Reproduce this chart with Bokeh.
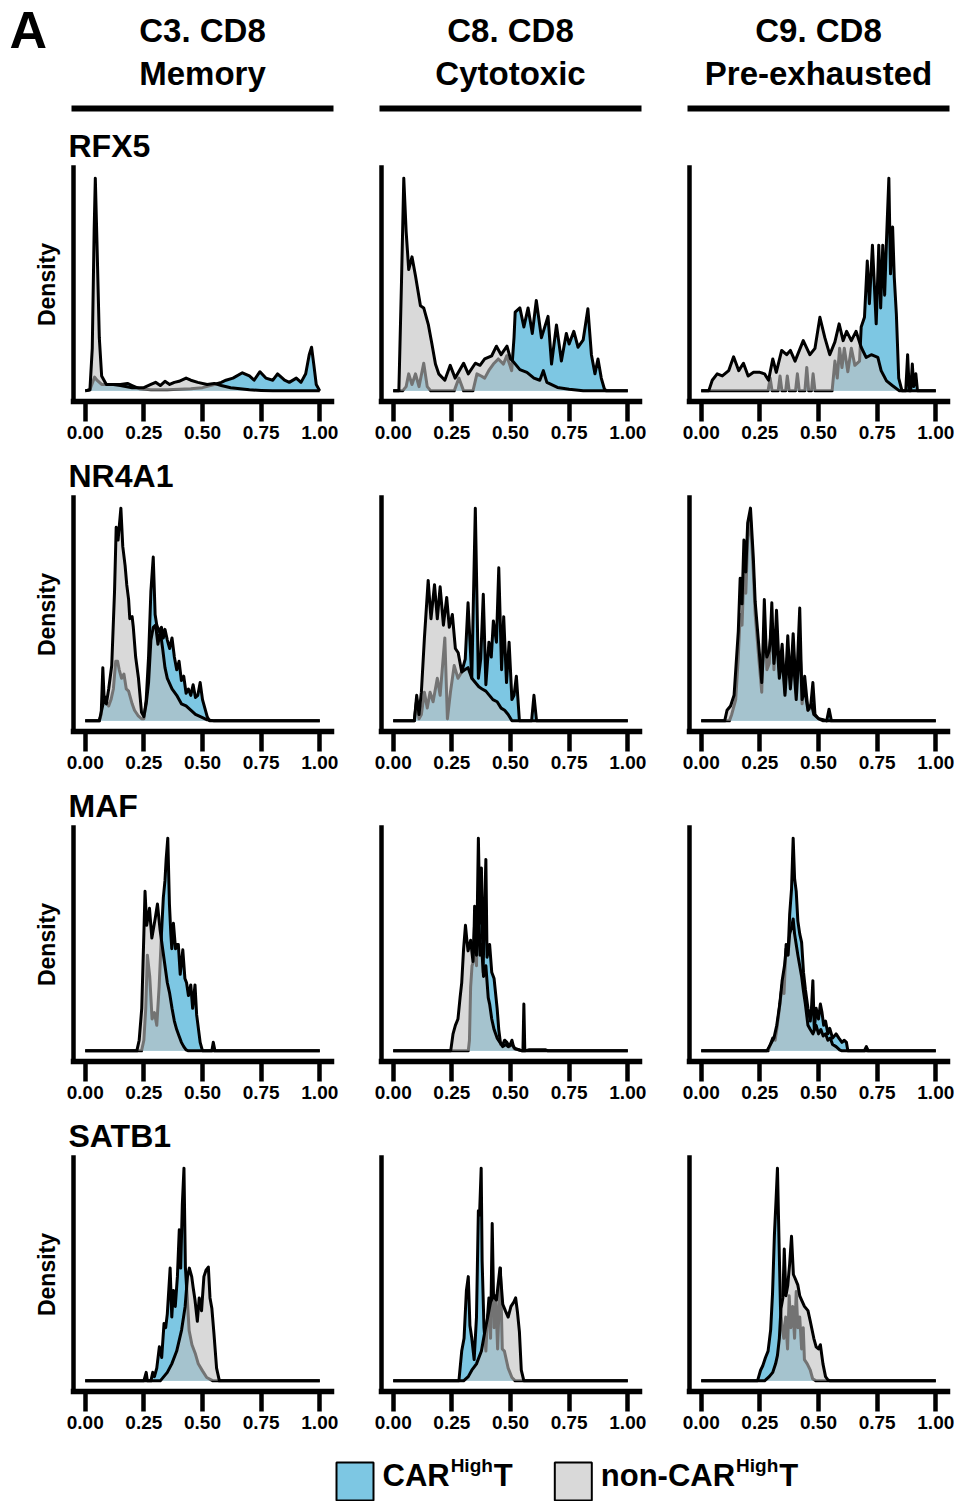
from bokeh.plotting import figure
from bokeh.layouts import column, row
from bokeh.models import Range1d, FixedTicker, NumeralTickFormatter
from bokeh.embed import file_html
from bokeh.resources import INLINE
from bokeh.core.properties import value

# ---------------- data (x = scaled expression, y = relative density) ----------------
header_line1 = ["C3. CD8", "C8. CD8", "C9. CD8"]
header_line2 = ["Memory", "Cytotoxic", "Pre-exhausted"]
genes = ["RFX5", "NR4A1", "MAF", "SATB1"]
x_ticks = [0.0, 0.25, 0.5, 0.75, 1.0]
x_tick_labels = ["0.00", "0.25", "0.50", "0.75", "1.00"]
legend_labels = ["CAR", "non-CAR"]

RFX5_C3_CAR = [(0,0),(0.02,0.5),(0.04,6.5),(0.05,5),(0.07,3),(0.1,3),(0.15,3),(0.18,3.5),(0.2,2.5),(0.23,1),(0.28,0.5),(0.35,0.5),(0.45,1),(0.5,1.5),(0.55,3),(0.58,4),(0.6,5),(0.63,6),(0.67,8.5),(0.7,7),(0.72,5),(0.745,9),(0.77,6),(0.8,5),(0.82,8),(0.85,5),(0.87,4),(0.9,6),(0.92,4),(0.94,8),(0.955,17),(0.965,20.5),(0.975,12),(0.985,3),(1,0)]
RFX5_C3_NON = [(0,0),(0.02,0.5),(0.03,20),(0.038,75),(0.043,100),(0.05,70),(0.06,25),(0.07,7),(0.09,3),(0.12,3),(0.15,2.5),(0.2,1.5),(0.25,1.5),(0.28,3),(0.3,4),(0.32,2.5),(0.34,4.5),(0.36,3),(0.38,4),(0.4,4.5),(0.43,6),(0.45,5),(0.48,4),(0.52,3),(0.55,3.5),(0.58,2.5),(0.62,1.5),(0.66,1),(0.7,0.5),(0.75,0.2),(0.8,0),(1,0)]
RFX5_C8_CAR = [(0,0),(0.04,0),(0.055,2),(0.066,8),(0.08,3),(0.095,8),(0.11,2),(0.13,13),(0.145,2),(0.16,0),(0.26,0),(0.28,6),(0.3,0),(0.34,0),(0.357,8),(0.375,7),(0.39,6),(0.41,10),(0.427,12.6),(0.448,15),(0.47,12.6),(0.484,16.5),(0.505,9.5),(0.515,25),(0.52,37),(0.54,39),(0.557,30),(0.575,39),(0.593,27),(0.61,42.5),(0.632,25),(0.66,35),(0.675,12.6),(0.696,31),(0.717,14),(0.738,27),(0.75,22),(0.77,28),(0.788,20.5),(0.81,24),(0.83,38.6),(0.845,17),(0.86,8),(0.873,15),(0.887,6),(0.9,1),(0.908,0),(1,0)]
RFX5_C8_NON = [(0,0),(0.024,0),(0.035,50),(0.045,100),(0.055,75),(0.066,57),(0.08,63),(0.095,54),(0.116,40),(0.13,39),(0.15,31),(0.165,22),(0.18,12.6),(0.194,8),(0.22,5),(0.243,12),(0.264,6),(0.3,13),(0.32,8),(0.35,13),(0.37,12),(0.39,15),(0.42,16.5),(0.44,21),(0.46,17),(0.485,21),(0.5,15),(0.51,14),(0.54,10),(0.57,8.7),(0.6,6),(0.625,5),(0.64,9.5),(0.655,4),(0.7,1.6),(0.75,0.8),(0.81,0),(1,0)]
RFX5_C9_CAR = [(0,0),(0.285,0),(0.294,6),(0.302,0),(0.328,0),(0.336,7),(0.344,0),(0.36,0),(0.367,7),(0.375,0),(0.402,0),(0.41,8),(0.418,0),(0.442,0),(0.45,11),(0.458,0),(0.47,0),(0.477,8),(0.485,0),(0.558,0),(0.57,14),(0.58,6),(0.59,20),(0.6,11),(0.61,20),(0.625,9),(0.64,20),(0.655,12),(0.675,14),(0.682,30),(0.696,34.6),(0.708,61),(0.717,41),(0.73,68.5),(0.746,31.5),(0.757,68.5),(0.765,39),(0.774,68.5),(0.782,45),(0.79,71),(0.8,100),(0.807,55),(0.816,77),(0.823,53.5),(0.832,36),(0.842,6),(0.856,0),(0.872,0),(0.88,17),(0.887,0),(0.893,0),(0.9,12.6),(0.906,2),(0.915,8),(0.922,0),(1,0)]
RFX5_C9_NON = [(0,0),(0.032,0),(0.047,5),(0.068,8),(0.09,7),(0.117,9.5),(0.138,16),(0.16,9.5),(0.18,13),(0.2,7),(0.223,8.7),(0.25,8.7),(0.27,8),(0.287,5),(0.305,15),(0.32,8.7),(0.343,19),(0.364,17),(0.38,19),(0.4,14),(0.435,23.6),(0.463,17),(0.485,20),(0.506,34.6),(0.527,25),(0.548,17),(0.57,23),(0.588,31.5),(0.605,23.6),(0.62,28),(0.64,23.6),(0.66,28),(0.682,20.5),(0.703,15.7),(0.725,17),(0.753,15.7),(0.767,9.5),(0.79,4.7),(0.816,2.4),(0.845,0),(1,0)]

NR4A1_C3_CAR = [(0,0),(0.06,0),(0.068,3),(0.075,25),(0.08,12),(0.09,9),(0.1,7),(0.11,10),(0.12,15),(0.13,28),(0.138,28),(0.145,24),(0.155,20),(0.165,22),(0.175,15),(0.185,14),(0.2,8),(0.21,5),(0.225,2.5),(0.24,1),(0.25,1),(0.26,10),(0.27,30),(0.28,61),(0.29,77),(0.298,50),(0.305,45),(0.315,42),(0.325,44),(0.333,39),(0.34,43),(0.35,38),(0.36,34),(0.37,39),(0.38,30),(0.39,24),(0.4,28),(0.41,19),(0.42,21),(0.43,13),(0.44,15),(0.45,12),(0.46,17),(0.47,11),(0.48,12),(0.49,18),(0.5,10),(0.51,6),(0.52,2),(0.53,0),(1,0)]
NR4A1_C3_NON = [(0,0),(0.06,0),(0.07,5),(0.08,10),(0.09,8),(0.1,15),(0.113,26),(0.125,61),(0.132,91),(0.14,85),(0.152,100),(0.16,82),(0.17,73),(0.177,64),(0.185,57),(0.19,48),(0.2,49),(0.205,44),(0.215,30),(0.227,20),(0.24,4),(0.25,2),(0.26,8),(0.27,18),(0.28,38),(0.29,44),(0.3,45),(0.31,36),(0.32,42),(0.33,34),(0.34,25),(0.35,20),(0.37,15),(0.39,12),(0.41,8),(0.43,7),(0.45,5),(0.47,3),(0.5,1.5),(0.52,0.5),(0.55,0),(1,0)]
NR4A1_C8_CAR = [(0,0),(0.09,0),(0.1,10),(0.11,1),(0.12,3),(0.133,13.5),(0.145,6),(0.157,13.5),(0.17,9),(0.188,20),(0.2,12),(0.22,39),(0.231,1),(0.244,13.5),(0.26,26),(0.276,20),(0.292,23),(0.307,29),(0.319,55.5),(0.335,20),(0.35,100),(0.363,20),(0.373,29),(0.384,59.5),(0.395,17),(0.408,37),(0.418,30),(0.427,47),(0.44,37),(0.45,72),(0.462,24),(0.471,49),(0.483,18),(0.494,37),(0.506,10),(0.515,12),(0.525,21),(0.538,0),(0.59,0),(0.6,12),(0.611,0),(1,0)]
NR4A1_C8_NON = [(0,0),(0.09,0),(0.1,12),(0.11,3),(0.12,13.5),(0.133,39),(0.149,66),(0.161,48),(0.176,64),(0.188,48),(0.2,63),(0.214,45),(0.228,58),(0.239,44),(0.252,50),(0.265,34),(0.277,32),(0.292,23),(0.305,24),(0.319,25),(0.335,20),(0.35,18),(0.365,16),(0.379,15),(0.395,14),(0.41,12),(0.425,10),(0.443,9),(0.46,6),(0.475,5),(0.49,3),(0.506,0),(1,0)]
NR4A1_C9_CAR = [(0,0),(0.12,0),(0.13,3),(0.147,10),(0.158,30),(0.166,50),(0.174,45),(0.182,70),(0.19,60),(0.198,85),(0.21,95),(0.222,70),(0.23,50),(0.245,30),(0.258,13.5),(0.269,57),(0.28,24),(0.29,27),(0.301,55.5),(0.31,24),(0.321,52),(0.333,23),(0.345,36),(0.357,13),(0.369,40),(0.38,17),(0.392,41),(0.405,13),(0.42,53),(0.43,8),(0.441,21),(0.455,5),(0.466,6),(0.476,18),(0.485,3),(0.5,1),(0.52,0.5),(0.535,0),(0.545,5.5),(0.555,0),(1,0)]
NR4A1_C9_NON = [(0,0),(0.1,0),(0.11,5),(0.125,7),(0.14,12),(0.158,42),(0.166,67),(0.174,55),(0.182,85),(0.19,70),(0.198,93),(0.21,100),(0.222,77),(0.23,56),(0.245,36),(0.258,18),(0.269,40),(0.28,30),(0.29,33),(0.301,45),(0.31,27),(0.321,40),(0.333,20),(0.345,30),(0.357,12),(0.369,32),(0.38,15),(0.392,30),(0.405,10),(0.42,38),(0.43,10),(0.441,15),(0.455,5),(0.47,8),(0.48,3),(0.5,1),(0.52,0),(1,0)]

MAF_C3_CAR = [(0,0),(0.24,0),(0.25,5),(0.258,20),(0.265,45),(0.275,35),(0.285,15),(0.295,18),(0.305,12),(0.315,30),(0.325,55),(0.333,72),(0.34,80),(0.345,90),(0.352,100),(0.359,69),(0.365,55),(0.369,48),(0.376,60),(0.385,48),(0.39,50),(0.397,50),(0.405,36),(0.416,47.5),(0.425,34),(0.432,32),(0.44,26),(0.45,31),(0.458,20),(0.468,31),(0.475,17),(0.49,4),(0.5,0),(0.54,0),(0.546,4),(0.553,0),(1,0)]
MAF_C3_NON = [(0,0),(0.22,0),(0.23,5),(0.241,20),(0.25,55),(0.255,75),(0.262,59),(0.274,67),(0.284,53),(0.298,62),(0.308,69),(0.319,57),(0.33,48),(0.34,40),(0.35,32),(0.36,27),(0.37,20),(0.38,14),(0.39,10),(0.4,7),(0.41,4),(0.42,2),(0.43,0.5),(0.44,0),(1,0)]
MAF_C8_CAR = [(0,0),(0.32,0),(0.325,5),(0.33,30),(0.336,40),(0.342,42),(0.347,68),(0.355,40),(0.363,100),(0.37,60),(0.376,86),(0.383,37),(0.388,60),(0.395,90),(0.4,44),(0.411,50),(0.42,37),(0.43,34),(0.443,20),(0.45,10),(0.458,3),(0.467,3),(0.475,5),(0.485,4),(0.495,2),(0.506,5),(0.515,1),(0.52,1),(0.55,0),(0.553,0),(0.557,22),(0.561,0),(0.58,0.5),(0.65,0.5),(0.66,0),(1,0)]
MAF_C8_NON = [(0,0),(0.245,0),(0.255,8),(0.265,12),(0.276,15),(0.285,25),(0.292,32),(0.3,48),(0.308,59),(0.314,52),(0.319,47),(0.33,52),(0.34,42),(0.347,60),(0.355,45),(0.363,75),(0.37,45),(0.376,50),(0.385,35),(0.395,40),(0.405,25),(0.411,22),(0.42,15),(0.43,10),(0.443,6),(0.455,4),(0.467,2),(0.48,3),(0.49,2),(0.506,3),(0.52,1),(0.535,0.5),(0.55,0),(1,0)]
MAF_C9_CAR = [(0,0),(0.285,0),(0.295,3),(0.305,6),(0.315,5),(0.322,10),(0.33,17),(0.345,31),(0.353,27),(0.362,50),(0.37,45),(0.377,64),(0.385,76),(0.392,100),(0.398,81),(0.405,75),(0.412,61),(0.42,55),(0.428,51),(0.436,37),(0.444,29),(0.455,20),(0.465,14),(0.47,20),(0.476,33),(0.482,10),(0.49,20),(0.5,15),(0.508,22),(0.515,18),(0.522,12),(0.53,14),(0.54,8),(0.548,10.6),(0.56,6),(0.575,8),(0.587,6),(0.6,4),(0.61,5),(0.619,4),(0.625,0),(0.695,0),(0.704,2),(0.712,0),(1,0)]
MAF_C9_NON = [(0,0),(0.28,0),(0.29,2),(0.3,4),(0.31,6),(0.322,12),(0.335,22),(0.345,33),(0.355,40),(0.362,48),(0.37,45),(0.377,55),(0.385,58),(0.392,62),(0.398,55),(0.405,50),(0.412,45),(0.42,40),(0.428,35),(0.436,28),(0.444,22),(0.455,12),(0.465,10),(0.476,8),(0.49,12),(0.5,8),(0.51,10),(0.52,7),(0.53,8),(0.54,5),(0.55,6),(0.56,3),(0.575,2),(0.59,0.5),(0.6,0),(1,0)]

SATB1_C3_CAR = [(0,0),(0.25,0),(0.26,4),(0.265,0),(0.28,0),(0.288,4),(0.295,2),(0.305,6),(0.316,16),(0.326,11),(0.336,27),(0.343,25),(0.35,31.5),(0.362,53),(0.369,30),(0.376,42.5),(0.384,35),(0.393,49),(0.401,71),(0.407,53),(0.414,83),(0.421,100),(0.427,53.5),(0.435,39),(0.443,23.6),(0.455,17),(0.47,12.6),(0.482,8),(0.5,4.7),(0.518,1.6),(0.545,0),(1,0)]
SATB1_C3_NON = [(0,0),(0.32,0),(0.335,2),(0.35,4),(0.369,8),(0.39,14),(0.411,24),(0.426,35),(0.436,49),(0.444,53),(0.454,49),(0.46,44),(0.468,38),(0.478,28),(0.486,39),(0.496,33),(0.506,49),(0.515,52),(0.525,53.5),(0.532,39),(0.54,34),(0.549,22),(0.56,6),(0.572,0),(1,0)]
SATB1_C8_CAR = [(0,0),(0.28,0),(0.292,14),(0.302,20),(0.312,42.5),(0.32,49),(0.327,26),(0.335,20),(0.345,10),(0.355,30),(0.363,80),(0.368,78),(0.375,100),(0.379,56.5),(0.387,25),(0.395,14),(0.402,30),(0.408,39),(0.415,20),(0.422,74),(0.43,25),(0.437,40),(0.445,15),(0.457,53),(0.465,15),(0.474,14),(0.49,6),(0.506,1.6),(0.52,0),(1,0)]
SATB1_C8_NON = [(0,0),(0.3,0),(0.32,2),(0.335,5),(0.355,8),(0.376,14),(0.392,24),(0.403,30),(0.415,37),(0.427,40),(0.44,38),(0.455,53),(0.467,36),(0.478,33),(0.49,30),(0.502,35),(0.514,37),(0.522,39),(0.53,32),(0.538,23),(0.546,5),(0.557,0),(1,0)]
SATB1_C9_CAR = [(0,0),(0.24,0),(0.253,5),(0.262,7),(0.274,11),(0.285,14),(0.296,24),(0.304,41),(0.312,68.5),(0.319,85),(0.325,100),(0.331,69),(0.338,34),(0.345,25),(0.352,20),(0.36,30),(0.368,15),(0.375,40),(0.382,25),(0.39,35),(0.398,20),(0.405,42),(0.412,25),(0.42,30),(0.428,15),(0.435,25),(0.44,10),(0.452,8),(0.465,5),(0.475,1),(0.49,0),(1,0)]
SATB1_C9_NON = [(0,0),(0.27,0),(0.29,2),(0.305,4),(0.317,8),(0.325,12),(0.333,20),(0.34,34),(0.348,39),(0.354,62),(0.361,40),(0.369,45),(0.377,55),(0.385,68),(0.393,50),(0.401,48),(0.412,45),(0.42,40),(0.428,38),(0.44,35),(0.455,33),(0.465,28),(0.48,20),(0.49,16),(0.5,15),(0.508,17),(0.519,8),(0.53,2),(0.54,0.5),(0.55,0),(1,0)]

panel_data = {
    ("RFX5", 0): (RFX5_C3_CAR, RFX5_C3_NON), ("RFX5", 1): (RFX5_C8_CAR, RFX5_C8_NON), ("RFX5", 2): (RFX5_C9_CAR, RFX5_C9_NON),
    ("NR4A1", 0): (NR4A1_C3_CAR, NR4A1_C3_NON), ("NR4A1", 1): (NR4A1_C8_CAR, NR4A1_C8_NON), ("NR4A1", 2): (NR4A1_C9_CAR, NR4A1_C9_NON),
    ("MAF", 0): (MAF_C3_CAR, MAF_C3_NON), ("MAF", 1): (MAF_C8_CAR, MAF_C8_NON), ("MAF", 2): (MAF_C9_CAR, MAF_C9_NON),
    ("SATB1", 0): (SATB1_C3_CAR, SATB1_C3_NON), ("SATB1", 1): (SATB1_C8_CAR, SATB1_C8_NON), ("SATB1", 2): (SATB1_C9_CAR, SATB1_C9_NON),
}

# ---------------- style / layout ----------------
FONT = "Liberation Sans"
BLUE = "#7DC7E3"
GREY = "#BFBFBF"
GREY_ALPHA = 0.6
LW = 3.0
TOTAL_W = 955
FRAME_W = 258
FRAME_H = 234
COL_LB = [73, 35, 35]
COL_RB = [15, 15, 8]
PANEL_TOP = 4
PANEL_BOT = 58
STRIP_H = 34
HDR_H = 129
LEG_H = 52


def bare(width, height):
    f = figure(width=width, height=height, x_range=Range1d(0, width), y_range=Range1d(height, 0),
               output_backend="svg", toolbar_location=None, x_axis_location=None,
               y_axis_location=None, min_border=0, title=None)
    f.xgrid.visible = False
    f.ygrid.visible = False
    f.outline_line_color = None
    return f


def make_panel(gene, ci):
    car, non = panel_data[(gene, ci)]
    cx = [a for a, _ in car]; cy = [b for _, b in car]
    nx = [a for a, _ in non]; ny = [b for _, b in non]
    ymax = max(max(cy), max(ny))
    p = figure(width=COL_LB[ci] + FRAME_W + COL_RB[ci], height=PANEL_TOP + FRAME_H + PANEL_BOT,
               x_range=Range1d(-0.05, 1.05), y_range=Range1d(-0.05 * ymax, 1.05 * ymax),
               output_backend="svg", toolbar_location=None, title=None,
               min_border_left=COL_LB[ci], min_border_right=COL_RB[ci],
               min_border_top=PANEL_TOP, min_border_bottom=PANEL_BOT)
    p.xgrid.visible = False
    p.ygrid.visible = False
    p.outline_line_color = None

    p.varea(x=cx, y1=0, y2=cy, fill_color=BLUE, fill_alpha=1.0)
    p.line(cx, cy, line_color="black", line_width=LW, line_join="round")
    p.varea(x=nx, y1=0, y2=ny, fill_color=GREY, fill_alpha=GREY_ALPHA)
    p.line(nx, ny, line_color="black", line_width=LW, line_join="round")

    xa = p.xaxis[0]
    xa.ticker = FixedTicker(ticks=x_ticks)
    xa.formatter = NumeralTickFormatter(format="0.00")
    xa.major_label_overrides = {t: lab for t, lab in zip(x_ticks, x_tick_labels)}
    xa.axis_line_width = 5.5
    xa.axis_line_cap = "square"
    xa.axis_line_color = "black"
    xa.major_tick_out = 20
    xa.major_tick_in = 0
    xa.major_tick_line_width = 4.5
    xa.major_tick_line_color = "black"
    xa.minor_tick_line_color = None
    xa.major_label_standoff = 4
    xa.major_label_text_font = FONT
    xa.major_label_text_font_style = "bold"
    xa.major_label_text_font_size = "19px"
    xa.major_label_text_color = "black"

    ya = p.yaxis[0]
    ya.ticker = FixedTicker(ticks=[])
    ya.axis_line_width = 4.5
    ya.axis_line_cap = "square"
    ya.axis_line_color = "black"
    ya.major_tick_line_color = None
    ya.minor_tick_line_color = None
    if ci == 0:
        ya.axis_label = "Density"
        ya.axis_label_text_font = FONT
        ya.axis_label_text_font_style = "bold"
        ya.axis_label_text_font_size = "23px"
        ya.axis_label_text_color = "black"
        ya.axis_label_standoff = 14
    return p


# column geometry (frame left edges across the page)
col_left = []
acc = 0
for ci in range(3):
    col_left.append(acc + COL_LB[ci])
    acc += COL_LB[ci] + FRAME_W + COL_RB[ci]
col_center = [l + FRAME_W / 2 for l in col_left]

# header
hdr = bare(TOTAL_W, HDR_H)
hdr.text(x=[9], y=[29], text=["A"], text_font=value(FONT), text_font_style="bold",
         text_font_size="52px", text_align="left", text_baseline="alphabetic", text_color="black")
hdr.text(x=col_center, y=[30] * 3, text=header_line1, text_font=value(FONT), text_font_style="bold",
         text_font_size="33px", text_align="center", text_baseline="alphabetic", text_color="black")
hdr.text(x=col_center, y=[73] * 3, text=header_line2, text_font=value(FONT), text_font_style="bold",
         text_font_size="33px", text_align="center", text_baseline="alphabetic", text_color="black")
hdr.quad(left=[l - 2 for l in col_left], right=[l + FRAME_W + 2 for l in col_left],
         top=[105] * 3, bottom=[111] * 3, fill_color="black", line_color=None)

blocks = [hdr]
for gene in genes:
    strip = bare(TOTAL_W, STRIP_H)
    strip.text(x=[col_left[0] - 5], y=[16], text=[gene], text_font=value(FONT), text_font_style="bold",
               text_font_size="32px", text_align="left", text_baseline="alphabetic", text_color="black")
    blocks.append(strip)
    blocks.append(row(*[make_panel(gene, ci) for ci in range(3)], spacing=0))

# legend
leg = bare(TOTAL_W, LEG_H)
W = {"C": .722, "A": .722, "R": .722, "T": .611, "H": .722, "i": .278, "g": .611, "h": .611,
     "n": .611, "o": .611, "-": .333}
def tw(s, size):
    return sum(W[c] for c in s) * size

BIG, SMALL = 31, 19
box_top, box_size = 13, 38
base_main, base_sup = box_top + 13, box_top + 3
x = 335
for lab, col, alpha in zip(legend_labels, [BLUE, GREY], [1.0, GREY_ALPHA]):
    leg.quad(left=[x + 1], right=[x + box_size], top=[box_top], bottom=[box_top + box_size],
             fill_color=col, fill_alpha=alpha, line_color="black", line_width=2)
    tx = x + box_size + 9
    leg.text(x=[tx], y=[base_main], text=[lab], text_font=value(FONT), text_font_style="bold",
             text_font_size=f"{BIG}px", text_align="left", text_baseline="alphabetic", text_color="black")
    tx += tw(lab, BIG) + 1
    leg.text(x=[tx], y=[base_sup], text=["High"], text_font=value(FONT), text_font_style="bold",
             text_font_size=f"{SMALL}px", text_align="left", text_baseline="alphabetic", text_color="black")
    tx += tw("High", SMALL) + 1
    leg.text(x=[tx], y=[base_main], text=["T"], text_font=value(FONT), text_font_style="bold",
             text_font_size=f"{BIG}px", text_align="left", text_baseline="alphabetic", text_color="black")
    tx += tw("T", BIG)
    x = tx + 41
blocks.append(leg)

layout = column(*blocks, spacing=0)
open("out.html", "w").write(file_html(layout, INLINE))
